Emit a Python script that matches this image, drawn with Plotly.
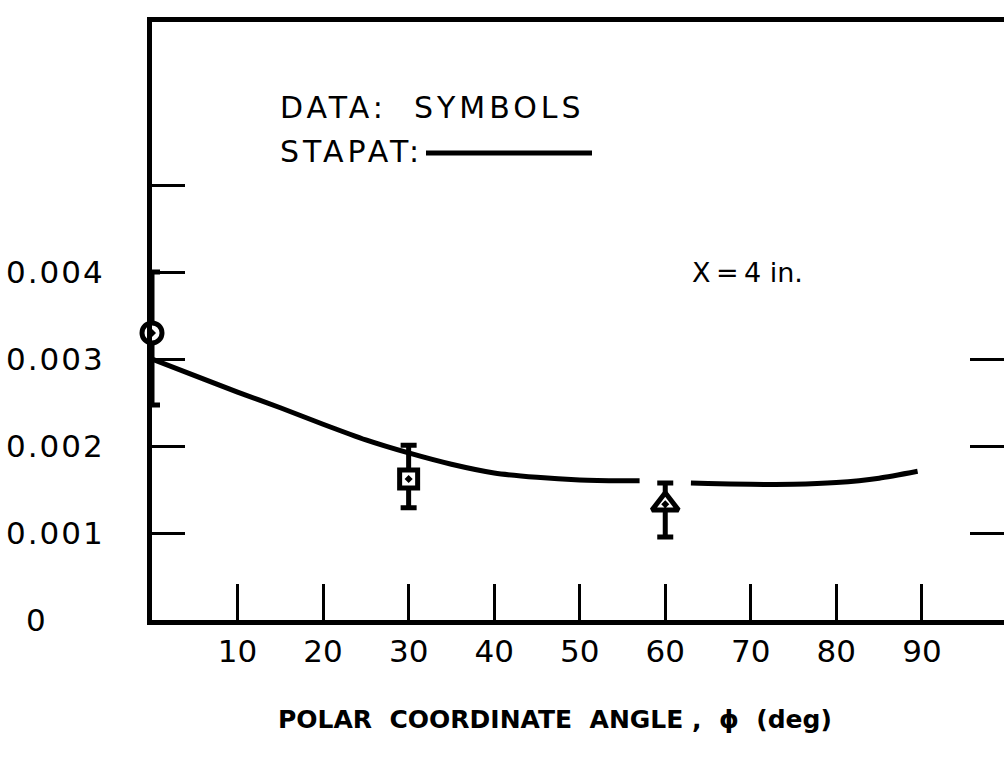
import plotly.graph_objects as go

# STAPAT prediction along the polar angle (gap where the 60 deg symbol sits)
stapat_angle = [0, 5, 10, 15, 20, 25, 30, 35, 40, 45, 50, 55, 57, 60, 63, 65, 70, 75, 80, 85, 89.5]
stapat_value = [3.00e-3, 2.81e-3, 2.62e-3, 2.44e-3, 2.25e-3, 2.07e-3, 1.92e-3, 1.79e-3,
                1.69e-3, 1.64e-3, 1.61e-3, 1.60e-3, 1.60e-3, None, 1.575e-3, 1.57e-3,
                1.56e-3, 1.56e-3, 1.58e-3, 1.63e-3, 1.71e-3]

# Measured data with scatter bands
data_angle = [0, 30, 60]
data_value = [3.30e-3, 1.62e-3, 1.33e-3]
data_err_plus = [0.70e-3, 0.39e-3, 0.245e-3]
data_err_minus = [0.83e-3, 0.33e-3, 0.375e-3]
data_symbol = ["circle-dot", "square-dot", "triangle-up-dot"]
data_size = [20, 18, 23]

# Axis ticks
x_ticks = [10, 20, 30, 40, 50, 60, 70, 80, 90]
y_ticks = [0, 0.001, 0.002, 0.003, 0.004, 0.005]
y_tick_labels = ["0.001", "0.002", "0.003", "0.004", ""]
right_ticks = [0.001, 0.002, 0.003]

FONT = "DejaVu Sans"
INK = "black"
Y_RANGE = [0, 0.006874]


def spaced(text, px):
    return f'<span style="letter-spacing:{px}px">{text}</span>'


# zero label sits further left, under the leading digits of the others
y_tick_text = ["0" + "\u00a0" * 6] + [spaced(t, 2) for t in y_tick_labels]

fig = go.Figure()

fig.add_trace(go.Scatter(
    x=stapat_angle, y=stapat_value, mode="lines",
    line=dict(color=INK, width=5, shape="spline", smoothing=0.6),
    connectgaps=False, showlegend=False, hoverinfo="skip",
))

fig.add_trace(go.Scatter(
    x=data_angle, y=data_value, mode="markers",
    marker=dict(symbol=data_symbol, size=data_size, color="white", opacity=1,
                line=dict(color=INK, width=5)),
    error_y=dict(type="data", symmetric=False, array=data_err_plus,
                 arrayminus=data_err_minus, color=INK, thickness=5, width=8),
    cliponaxis=False, showlegend=False,
))

# empty trace that carries the right-hand tick axis
fig.add_trace(go.Scatter(x=[], y=[], yaxis="y2", showlegend=False, hoverinfo="skip"))

fig.update_layout(
    width=1004, height=759,
    margin=dict(l=152, r=0, t=22, b=139, autoexpand=False),
    paper_bgcolor="white", plot_bgcolor="white",
    font=dict(family=FONT, color=INK),
    xaxis=dict(
        range=[0, 99.6], showgrid=False, zeroline=False, automargin=False,
        showline=True, linewidth=5, linecolor=INK, mirror=True,
        ticks="inside", ticklen=36, tickwidth=3, tickcolor=INK,
        tickvals=x_ticks, ticktext=[str(v) for v in x_ticks],
        tickfont=dict(size=31, family=FONT), ticklabelstandoff=0,
    ),
    yaxis=dict(
        range=Y_RANGE, showgrid=False, zeroline=False, automargin=False,
        showline=True, linewidth=5, linecolor=INK, mirror=False,
        ticks="inside", ticklen=33, tickwidth=3, tickcolor=INK,
        tickvals=y_ticks, ticktext=y_tick_text,
        tickfont=dict(size=31, family=FONT), ticklabelstandoff=36,
    ),
    yaxis2=dict(
        range=Y_RANGE, overlaying="y", side="right", anchor="x", automargin=False,
        showgrid=False, zeroline=False, showline=False,
        ticks="inside", ticklen=34, tickwidth=3, tickcolor=INK,
        tickvals=right_ticks, showticklabels=False,
    ),
)

# Key and case label
fig.add_annotation(xref="paper", yref="paper", x=(278 - 152) / 852, y=(620 - 107) / 598,
                   xanchor="left", yanchor="middle", showarrow=False,
                   text=spaced("DATA:  SYMBOLS", 4), font=dict(size=30, family=FONT))
fig.add_annotation(xref="paper", yref="paper", x=(278 - 152) / 852, y=(620 - 152) / 598,
                   xanchor="left", yanchor="middle", showarrow=False,
                   text=spaced("STAPAT:", 4), font=dict(size=30, family=FONT))
fig.add_shape(type="line", xref="paper", yref="paper",
              x0=(426 - 152) / 852, x1=(592 - 152) / 852,
              y0=(620 - 153) / 598, y1=(620 - 153) / 598,
              line=dict(color=INK, width=5))
fig.add_annotation(xref="paper", yref="paper", x=(690 - 152) / 852, y=(620 - 272) / 598,
                   xanchor="left", yanchor="middle", showarrow=False,
                   text="X\u2009=\u20094 in.", font=dict(size=27, family=FONT))

# Axis title
fig.add_annotation(xref="paper", yref="paper", x=(555 - 152) / 852, y=(620 - 720) / 598,
                   xanchor="center", yanchor="middle", showarrow=False,
                   text="<b>POLAR  COORDINATE  ANGLE ,  \u03d5  (deg)</b>",
                   font=dict(size=25, family=FONT))

fig.write_html("out.html")
